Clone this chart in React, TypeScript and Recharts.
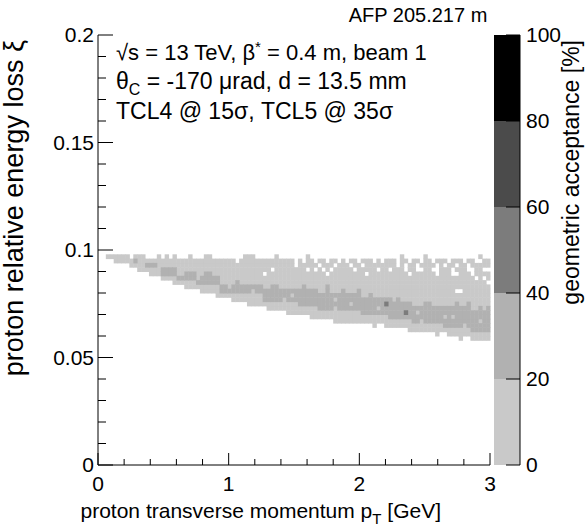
import { ScatterChart, Scatter, XAxis, YAxis, BarChart, Bar, Label } from 'recharts';

const FONT = '"Liberation Sans", Arial, Helvetica, sans-serif';
const CHART_W = 586;
const CHART_H = 529;
const PLOT_LEFT = 98;
const PLOT_TOP = 35;
const PLOT_RIGHT = 490;
const PLOT_BOTTOM = 465;
const X_AXIS_H = 30;
const Y_AXIS_W = 60;

// histogram binning (pT in GeV, xi dimensionless)
const PT_MAX = 3;
const XI_MAX = 0.2;
const PT_BIN = 0.03;
const XI_BIN = 0.002;
const FIRST_COLUMN = 2;

// per pT column (starting at column 2): lowest / highest filled xi bin
const BOTTOM_BIN = [
  48, 48, 47, 47, 47, 47, 46, 46, 45, 45,
  45, 44, 44, 44, 43, 43, 43, 42, 42, 42,
  41, 41, 41, 41, 40, 40, 40, 40, 39, 39,
  39, 39, 38, 38, 38, 38, 37, 37, 37, 37,
  37, 36, 36, 36, 36, 36, 35, 35, 35, 35,
  35, 35, 34, 34, 34, 34, 34, 34, 33, 33,
  33, 33, 33, 33, 33, 33, 33, 33, 32, 33,
  33, 32, 32, 32, 32, 32, 32, 31, 31, 31,
  31, 31, 31, 31, 30, 31, 31, 30, 30, 30,
  29, 30, 30, 29, 29, 29, 29, 29,
];
const TOP_BIN = [
  48, 48, 48, 48, 48, 48, 47, 48, 48, 48,
  47, 47, 47, 48, 47, 48, 47, 48, 47, 47,
  47, 48, 47, 47, 47, 48, 48, 47, 47, 47,
  47, 47, 47, 47, 47, 48, 48, 48, 47, 47,
  47, 47, 47, 48, 47, 47, 47, 47, 47, 47,
  47, 48, 47, 47, 47, 47, 47, 47, 47, 47,
  47, 47, 47, 47, 47, 47, 47, 47, 47, 47,
  47, 47, 47, 47, 47, 48, 47, 47, 47, 47,
  47, 48, 47, 47, 47, 47, 47, 47, 47, 47,
  47, 47, 47, 47, 47, 48, 47, 47,
];
// 20-40 % acceptance band (0 = no band in that column)
const BAND_LO = [
  0, 0, 0, 0, 0, 0, 0, 47, 0, 0,
  46, 46, 46, 0, 44, 44, 44, 44, 43, 43,
  43, 43, 43, 42, 42, 42, 42, 42, 42, 40,
  40, 40, 40, 40, 40, 40, 40, 40, 40, 40,
  38, 38, 38, 38, 38, 39, 38, 38, 38, 37,
  37, 37, 37, 37, 36, 36, 36, 36, 37, 36,
  36, 36, 36, 36, 36, 35, 35, 35, 35, 35,
  35, 35, 34, 34, 34, 34, 34, 34, 33, 33,
  34, 33, 33, 33, 33, 33, 32, 32, 32, 32,
  32, 33, 32, 31, 31, 31, 31, 31,
];
const BAND_HI = [
  0, 0, 0, 0, 0, 0, 0, 47, 0, 0,
  46, 46, 46, 0, 45, 45, 45, 45, 43, 43,
  44, 44, 44, 42, 43, 43, 44, 43, 43, 41,
  41, 41, 41, 41, 41, 41, 41, 41, 41, 41,
  40, 40, 40, 41, 40, 40, 40, 40, 40, 40,
  40, 40, 40, 40, 39, 39, 40, 39, 39, 39,
  40, 39, 39, 39, 39, 38, 38, 39, 38, 38,
  38, 38, 37, 37, 38, 37, 37, 37, 36, 36,
  36, 36, 37, 36, 36, 36, 36, 36, 36, 37,
  36, 36, 36, 35, 35, 36, 35, 35,
];
// [column, xi bin]
const BAND_GAPS = [[33, 41], [39, 40], [49, 39], [60, 38], [64, 37], [71, 36], [81, 35], [88, 34], [90, 34], [97, 33]];
const EXTRA_BAND = [[27, 44], [35, 42], [44, 41], [52, 41], [58, 41], [66, 40], [74, 38], [83, 37], [94, 37], [99, 36]];
const MID_CELLS = [[73, 37], [78, 35]];
const HOLES = [
  [35, 47], [42, 44], [44, 45], [50, 46], [50, 47], [52, 47], [53, 45], [55, 45], [55, 47], [56, 46],
  [57, 45], [58, 44], [58, 47], [59, 45], [60, 46], [61, 47], [63, 47], [64, 46], [65, 45], [66, 47],
  [67, 46], [68, 44], [70, 47], [71, 45], [72, 47], [74, 45], [76, 46], [76, 47], [78, 45], [78, 46],
  [79, 44], [79, 47], [81, 45], [81, 46], [82, 45], [82, 47], [85, 45], [85, 47], [86, 44], [86, 45],
  [86, 46], [88, 46], [89, 47], [90, 44], [90, 45], [91, 44], [91, 46], [91, 40], [92, 40], [93, 47],
  [94, 45], [94, 46], [95, 44], [95, 45], [96, 43], [96, 47], [97, 47], [98, 43], [98, 45], [99, 42], [99, 45],
];

const PT_TICKS = [0, 0.2, 0.4, 0.6, 0.8, 1, 1.2, 1.4, 1.6, 1.8, 2, 2.2, 2.4, 2.6, 2.8, 3];
const PT_LABELS = [0, 1, 2, 3];
const XI_TICKS = [
  0, 0.01, 0.02, 0.03, 0.04, 0.05, 0.06, 0.07, 0.08, 0.09, 0.1,
  0.11, 0.12, 0.13, 0.14, 0.15, 0.16, 0.17, 0.18, 0.19, 0.2,
];
const XI_LABELS = [0, 0.05, 0.1, 0.15, 0.2];
const ACC_TICKS = [0, 20, 40, 60, 80, 100];
const ACC_COLORS = ['#c9c9c9', '#b1b1b1', '#7c7c7c', '#4b4b4b', '#000000'];
const ACC_ROW = [{ name: 'acceptance', b0: 20, b1: 20, b2: 20, b3: 20, b4: 20 }];

const has = (list: number[][], c: number, k: number) => list.some(([a, b]) => a === c && b === k);

const lightCells: { pt: number; xi: number }[] = [];
const bandCells: { pt: number; xi: number }[] = [];
const midCells: { pt: number; xi: number }[] = [];
BOTTOM_BIN.forEach((bottom, i) => {
  const col = FIRST_COLUMN + i;
  for (let k = bottom; k <= TOP_BIN[i]; k++) {
    if (has(HOLES, col, k)) continue;
    const cell = { pt: (col + 0.5) * PT_BIN, xi: (k + 0.5) * XI_BIN };
    const inBand = BAND_LO[i] > 0 && k >= BAND_LO[i] && k <= BAND_HI[i] && !has(BAND_GAPS, col, k);
    if (has(MID_CELLS, col, k)) midCells.push(cell);
    else if (inBand || has(EXTRA_BAND, col, k)) bandCells.push(cell);
    else lightCells.push(cell);
  }
});

const CELL_W = ((PLOT_RIGHT - PLOT_LEFT) * PT_BIN) / PT_MAX;
const CELL_H = ((PLOT_BOTTOM - PLOT_TOP) * XI_BIN) / XI_MAX;
const cellShape = (fill: string) => (p: any) => (
  <rect x={p.cx - CELL_W / 2} y={p.cy - CELL_H / 2} width={CELL_W + 0.5} height={CELL_H + 0.5} fill={fill} />
);

const txt = { fontFamily: FONT, fontSize: 21, fill: '#000' };

function PtTick({ x, y, payload }: any) {
  const major = PT_LABELS.includes(payload.value);
  return (
    <g>
      <line x1={x} x2={x} y1={y} y2={y - (major ? 12 : 6)} stroke="#000" />
      {major && (
        <text x={x} y={y + 26} textAnchor="middle" {...txt}>
          {payload.value}
        </text>
      )}
    </g>
  );
}

function TopTick({ x, y, payload }: any) {
  const major = PT_LABELS.includes(payload.value);
  return <line x1={x} x2={x} y1={y} y2={y + (major ? 12 : 6)} stroke="#000" />;
}

function XiTick({ x, y, payload }: any) {
  const major = XI_LABELS.includes(payload.value);
  return (
    <g>
      <line x1={x} x2={x + (major ? 15 : 8)} y1={y} y2={y} stroke="#000" />
      {major && (
        <text x={x - 4} y={y} dy="0.35em" textAnchor="end" {...txt}>
          {payload.value}
        </text>
      )}
    </g>
  );
}

function RightTick({ x, y, payload }: any) {
  const major = XI_LABELS.includes(payload.value);
  return <line x1={x} x2={x - (major ? 15 : 8)} y1={y} y2={y} stroke="#000" />;
}

function AccTick({ x, y, payload }: any) {
  return (
    <g>
      <line x1={x} x2={x - 14} y1={y} y2={y} stroke="#000" />
      <text x={x + 6} y={y} dy="0.35em" textAnchor="start" {...txt}>
        {payload.value}
      </text>
    </g>
  );
}

export default function App() {
  return (
    <div style={{ position: 'absolute', left: 0, top: 0, width: CHART_W, height: CHART_H, background: '#fff' }}>
      <div style={{ position: 'absolute', left: 0, top: 0 }}>
        <ScatterChart
          width={CHART_W}
          height={CHART_H}
          margin={{
            top: PLOT_TOP,
            right: CHART_W - PLOT_RIGHT,
            bottom: CHART_H - PLOT_BOTTOM - X_AXIS_H,
            left: PLOT_LEFT - Y_AXIS_W,
          }}
        >
          <XAxis
            type="number"
            dataKey="pt"
            domain={[0, PT_MAX]}
            ticks={PT_TICKS}
            interval={0}
            height={X_AXIS_H}
            tickSize={0}
            tickMargin={0}
            tickLine={false}
            axisLine={{ stroke: '#000' }}
            tick={<PtTick />}
          >
            <Label
              content={({ viewBox }: any) => (
                <text x={viewBox.x + viewBox.width - 49} y={viewBox.y + 53} textAnchor="end" {...txt}>
                  proton transverse momentum p
                  <tspan dy={6} fontSize={15}>T</tspan>
                  <tspan dy={-6}> [GeV]</tspan>
                </text>
              )}
            />
          </XAxis>
          <XAxis
            xAxisId="top"
            orientation="top"
            type="number"
            domain={[0, PT_MAX]}
            ticks={PT_TICKS}
            interval={0}
            height={0}
            tickSize={0}
            tickMargin={0}
            tickLine={false}
            axisLine={{ stroke: '#000' }}
            tick={<TopTick />}
          />
          <YAxis
            type="number"
            dataKey="xi"
            domain={[0, XI_MAX]}
            ticks={XI_TICKS}
            interval={0}
            width={Y_AXIS_W}
            tickSize={0}
            tickMargin={0}
            tickLine={false}
            axisLine={{ stroke: '#000' }}
            tick={<XiTick />}
          >
            <Label
              content={({ viewBox }: any) => (
                <text
                  transform={`translate(${viewBox.x - 15},${viewBox.y + 5}) rotate(-90)`}
                  textAnchor="end"
                  {...txt}
                  fontSize={27}
                >
                  proton relative energy loss ξ
                </text>
              )}
            />
          </YAxis>
          <YAxis
            yAxisId="right"
            orientation="right"
            type="number"
            domain={[0, XI_MAX]}
            ticks={XI_TICKS}
            interval={0}
            width={0}
            tickSize={0}
            tickMargin={0}
            tickLine={false}
            axisLine={{ stroke: '#000' }}
            tick={<RightTick />}
          />
          <Scatter data={lightCells} shape={cellShape(ACC_COLORS[0])} isAnimationActive={false} />
          <Scatter data={bandCells} shape={cellShape(ACC_COLORS[1])} isAnimationActive={false} />
          <Scatter data={midCells} shape={cellShape(ACC_COLORS[2])} isAnimationActive={false} />
        </ScatterChart>
      </div>

      <div style={{ position: 'absolute', left: PLOT_RIGHT + 4, top: 0 }}>
        <BarChart
          width={92}
          height={CHART_H}
          data={ACC_ROW}
          barCategoryGap={0}
          margin={{ top: PLOT_TOP, right: 26, bottom: CHART_H - PLOT_BOTTOM, left: 0 }}
        >
          <XAxis dataKey="name" hide />
          <YAxis
            orientation="right"
            type="number"
            domain={[0, 100]}
            ticks={ACC_TICKS}
            interval={0}
            width={40}
            tickSize={0}
            tickMargin={0}
            tickLine={false}
            axisLine={{ stroke: '#000' }}
            tick={<AccTick />}
          >
            <Label
              content={({ viewBox }: any) => (
                <text
                  transform={`translate(${viewBox.x + viewBox.width + 19},${viewBox.y + 5}) rotate(-90)`}
                  textAnchor="end"
                  {...txt}
                  fontSize={23}
                >
                  geometric acceptance [%]
                </text>
              )}
            />
          </YAxis>
          {ACC_COLORS.map((c, i) => (
            <Bar key={c} dataKey={`b${i}`} stackId="acc" fill={c} isAnimationActive={false} />
          ))}
        </BarChart>
      </div>

      <svg
        width={CHART_W}
        height={CHART_H}
        style={{ position: 'absolute', left: 0, top: 0, pointerEvents: 'none' }}
      >
        <text x={418} y={22} textAnchor="middle" {...txt} fontSize={20}>
          AFP 205.217 m
        </text>
        <text x={116} y={60} {...txt} fontSize={22}>
          √s = 13 TeV, β<tspan dy={-8} fontSize={15}>*</tspan>
          <tspan dy={8}> = 0.4 m, beam 1</tspan>
        </text>
        <text x={116} y={89} {...txt} fontSize={23}>
          θ<tspan dy={6} fontSize={16}>C</tspan>
          <tspan dy={-6}> = -170 μrad, d = 13.5 mm</tspan>
        </text>
        <text x={116} y={119} {...txt} fontSize={23}>
          TCL4 @ 15σ, TCL5 @ 35σ
        </text>
      </svg>
    </div>
  );
}
